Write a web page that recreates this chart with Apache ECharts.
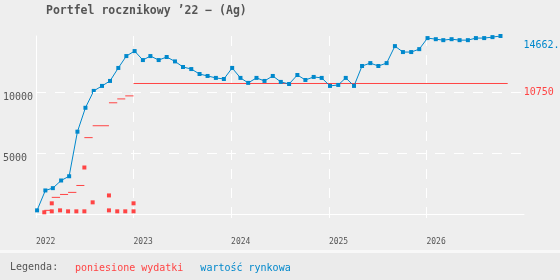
<!DOCTYPE html>
<html>
<head>
<meta charset="utf-8">
<script src="https://cdn.jsdelivr.net/npm/echarts@6/dist/echarts.min.js"></script>
<style>
  html, body { margin: 0; padding: 0; background: #eeeeee; }
  #main { width: 560px; height: 280px; }
</style>
</head>
<body>
<div id="main"></div>
<script>
var myChart = echarts.init(document.getElementById("main"));

// wartosc rynkowa - co miesiac
var valueDates = [
    '2022-01-05', '2022-02-05', '2022-03-05', '2022-04-05', '2022-05-05', '2022-06-05',
    '2022-07-05', '2022-08-05', '2022-09-05', '2022-10-05', '2022-11-05', '2022-12-05',
    '2023-01-05', '2023-02-05', '2023-03-05', '2023-04-05', '2023-05-05', '2023-06-05',
    '2023-07-05', '2023-08-05', '2023-09-05', '2023-10-05', '2023-11-05', '2023-12-05',
    '2024-01-05', '2024-02-05', '2024-03-05', '2024-04-05', '2024-05-05', '2024-06-05',
    '2024-07-05', '2024-08-05', '2024-09-05', '2024-10-05', '2024-11-05', '2024-12-05',
    '2025-01-05', '2025-02-05', '2025-03-05', '2025-04-05', '2025-05-05', '2025-06-05',
    '2025-07-05', '2025-08-05', '2025-09-05', '2025-10-05', '2025-11-05', '2025-12-05',
    '2026-01-05', '2026-02-05', '2026-03-05', '2026-04-05', '2026-05-05', '2026-06-05',
    '2026-07-05', '2026-08-05', '2026-09-05', '2026-10-05'
];
var marketValues = [
    300, 1940, 2130, 2760, 3110, 6780, 8750, 10140, 10550, 10960, 12030, 13010,
    13420, 12680, 13010, 12680, 12930, 12570, 12110, 11940, 11530, 11370, 11210, 11120,
    12030, 11210, 10800, 11210, 10960, 11370, 10880, 10710, 11450, 11040, 11290, 11210,
    10550, 10630, 11210, 10550, 12190, 12430, 12190, 12430, 13830, 13340, 13340, 13580,
    14490, 14400, 14320, 14400, 14320, 14320, 14490, 14490, 14570, 14662.35
];

// poniesione wydatki (narastajaco) - od / do / kwota
var costFrom = ['2022-02-01', '2022-03-01', '2022-04-01', '2022-05-01', '2022-06-01',
    '2022-07-01', '2022-08-01', '2022-10-01', '2022-11-01', '2022-12-01', '2023-01-01'];
var costTo = ['2022-03-01', '2022-04-01', '2022-05-01', '2022-06-01', '2022-07-01',
    '2022-08-01', '2022-10-01', '2022-11-01', '2022-12-01', '2023-01-01', '2026-11-01'];
var costTotals = [300, 1370, 1610, 1780, 2350, 6290, 7270, 9160, 9480, 9730, 10750];

// pojedyncze zakupy
var buyDates = ['2022-02-01', '2022-03-01', '2022-03-01', '2022-04-01', '2022-05-01',
    '2022-06-01', '2022-07-01', '2022-07-01', '2022-08-01', '2022-10-01', '2022-10-01',
    '2022-11-01', '2022-12-01', '2023-01-01', '2023-01-01'];
var buyValues = [140, 220, 880, 300, 220, 220, 220, 3830, 960, 300, 1530, 220, 220, 220, 880];

var yTicks = [5000, 10000];

var BLUE = '#0088cc';
var RED = '#ff4444';
var FONT = 'DejaVu Sans Mono';

var lineData = valueDates.map(function (d, i) { return [d, marketValues[i]]; });
var stepData = [];
costFrom.forEach(function (d, i) {
    if (i > 0) stepData.push('-');
    stepData.push([d, costTotals[i]]);
    stepData.push([costTo[i], costTotals[i]]);
});
var buyData = buyDates.map(function (d, i) { return [d, buyValues[i]]; });

var option = {
    backgroundColor: '#eeeeee',
    animation: false,
    title: {
        text: 'Portfel rocznikowy ’22 − (Ag)',
        left: 46,
        top: 5,
        padding: 0,
        textStyle: {color: '#555', fontFamily: FONT, fontSize: 11.5, fontWeight: 'bold'}
    },
    legend: {
        left: 65,
        top: 258,
        icon: 'none',
        itemWidth: 0,
        itemHeight: 10,
        itemGap: 12,
        selectedMode: false,
        textStyle: {fontFamily: FONT, fontSize: 10},
        data: [
            {name: 'poniesione wydatki', textStyle: {color: RED}},
            {name: 'wartość rynkowa', textStyle: {color: BLUE}}
        ]
    },
    graphic: [
        {type: 'rect', left: 0, top: 250, z: -10, silent: true,
            shape: {width: 560, height: 3}, style: {fill: '#f8f8f8'}},
        {type: 'rect', left: 0, top: 253, z: -10, silent: true,
            shape: {width: 560, height: 27}, style: {fill: '#ebebeb'}},
        {type: 'text', left: 10, top: 262, silent: true,
            style: {text: 'Legenda:', fill: '#555', font: '10px "DejaVu Sans Mono"'}}
    ],
    grid: {left: 36, right: 36, top: 36, bottom: 66},
    xAxis: {
        type: 'time',
        min: '2022-01-01',
        max: '2027-01-01',
        splitNumber: 5,
        minInterval: 365 * 24 * 3600 * 1000,
        axisLine: {lineStyle: {color: '#fff', width: 1}},
        axisTick: {show: true, length: 4, lineStyle: {color: '#fff'}},
        axisLabel: {
            color: '#555', fontFamily: FONT, fontSize: 8, margin: 24, align: 'left',
            showMaxLabel: false,
            formatter: function (v) { return String(new Date(v).getFullYear()); }
        },
        splitLine: {
            show: true, showMaxLine: false,
            lineStyle: {color: '#fff', type: [10, 9], width: 1}
        }
    },
    yAxis: {
        type: 'value',
        min: 0,
        max: 14662,
        interval: 5000,
        axisLine: {show: true, lineStyle: {color: '#fff'}},
        axisTick: {show: false},
        splitLine: {show: false},
        axisLabel: {
            color: '#555', fontFamily: FONT, fontSize: 10, align: 'left', margin: 33,
            verticalAlign: 'top',
            showMinLabel: false, showMaxLabel: false,
            formatter: function (v) { return String(v); }
        }
    },
    series: [
        {
            name: 'siatka',
            type: 'line',
            data: [],
            z: 1,
            silent: true,
            markLine: {
                silent: true,
                symbol: 'none',
                label: {show: false},
                lineStyle: {color: '#fff', type: [10, 9], width: 1},
                data: yTicks.map(function (t) { return {yAxis: t}; })
            }
        },
        {
            name: 'poniesione wydatki',
            type: 'line',
            data: stepData,
            z: 3,
            showSymbol: false,
            connectNulls: false,
            color: RED,
            lineStyle: {color: RED, width: 1, opacity: 1},
            endLabel: {
                show: true, color: RED, fontFamily: FONT, fontSize: 10,
                distance: 16, offset: [0, 9],
                formatter: function (p) { return String(p.value[1]); }
            }
        },
        {
            name: 'poniesione wydatki',
            type: 'scatter',
            data: buyData,
            z: 3,
            symbol: 'rect',
            symbolSize: 4,
            itemStyle: {color: RED, opacity: 1}
        },
        {
            name: 'wartość rynkowa',
            type: 'line',
            data: lineData,
            z: 4,
            symbol: 'rect',
            symbolSize: 4,
            color: BLUE,
            itemStyle: {color: BLUE, opacity: 1},
            lineStyle: {color: BLUE, width: 1},
            endLabel: {
                show: true, color: BLUE, fontFamily: FONT, fontSize: 10,
                distance: 23, offset: [0, 9],
                formatter: function (p) { return String(p.value[1]).slice(0, 6); }
            }
        }
    ]
};
myChart.setOption(option);
</script>
</body>
</html>
